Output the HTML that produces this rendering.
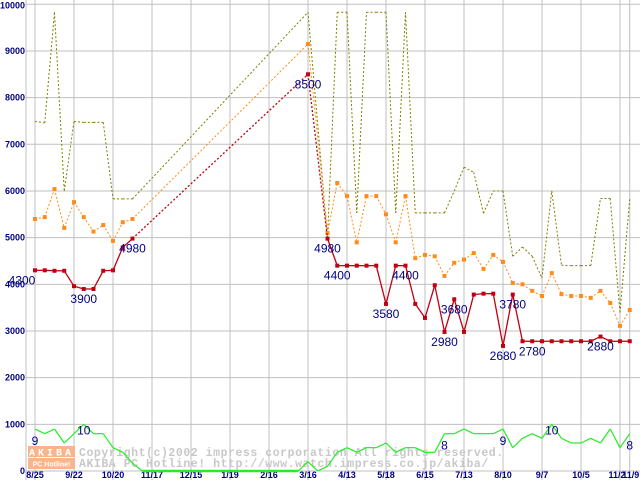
<!DOCTYPE html>
<html><head><meta charset="utf-8"><style>
html,body{margin:0;padding:0;background:#fff;}
svg{display:block;font-family:"Liberation Sans",sans-serif;}
</style></head><body>
<svg id="chart" width="640" height="480" viewBox="0 0 640 480" xmlns="http://www.w3.org/2000/svg">
<g id="grid"></g>
<g id="watermark">
  <rect x="28" y="446" width="47" height="11" fill="#f8b48a"/>
  <rect x="28" y="458" width="47" height="11" fill="#f8b48a"/>
  <text x="51.5" y="455.5" font-size="10" font-weight="bold" fill="#fff" text-anchor="middle" letter-spacing="3" font-family="Liberation Mono, monospace">AKIBA</text>
  <text x="51.5" y="466.5" font-size="7" font-weight="bold" fill="#fff" text-anchor="middle">PC Hotline!</text>
  <text x="79" y="456" font-size="11.5" font-weight="bold" fill="#c8c8c8" font-family="Liberation Mono, monospace" letter-spacing="0.55">Copyright(c)2002 impress corporation All rights reserved.</text>
  <text x="79" y="467" font-size="11.5" font-weight="bold" fill="#c8c8c8" font-family="Liberation Mono, monospace" letter-spacing="0.55">AKIBA PC Hotline!  http://www.watch.impress.co.jp/akiba/</text>
</g>
<g id="series"></g>
<g id="labels"></g>
</svg>
<script>
const N = null;
const xLabels = ["8/25","9/22","10/20","11/17","12/15","1/19","2/16","3/16","4/13","5/18","6/15","7/13","8/10","9/7","10/5","11/2","11/9"];
const xLabelWeeks = [0,4,8,12,16,20,24,28,32,36,40,44,48,52,56,60,61];
const yTicks = [0,1000,2000,3000,4000,5000,6000,7000,8000,9000,10000];
const minPrice = [4300,4300,4290,4290,3960,3900,3900,4290,4300,4790,4980,N,N,N,N,N,N,N,N,N,N,N,N,N,N,N,N,N,8500,N,4980,4400,4400,4400,4400,4400,3580,4400,4400,3580,3280,3980,2980,3680,2980,3780,3800,3800,2680,3780,2780,2780,2780,2780,2780,2780,2780,2780,2880,2780,2780,2780];
const avgPrice = [5400,5440,6040,5210,5760,5440,5130,5270,4930,5330,5400,N,N,N,N,N,N,N,N,N,N,N,N,N,N,N,N,N,9150,N,5100,6170,5890,4900,5890,5890,5500,4900,5890,4560,4630,4600,4180,4460,4530,4670,4330,4630,4480,4030,4000,3860,3750,4240,3790,3750,3750,3710,3860,3600,3110,3450];
const maxPrice = [7490,7460,9830,6000,7490,7470,7470,7470,5830,5830,5830,N,N,N,N,N,N,N,N,N,N,N,N,N,N,N,N,N,9830,N,5000,9830,9830,5530,9830,9830,9830,5530,9830,5530,5530,5530,5530,6000,6510,6400,5520,6000,6000,4600,4800,4600,4130,6000,4410,4400,4400,4400,5840,5840,3390,5840];
const shopCount = [900,800,900,600,800,1000,800,800,500,400,170,0,0,0,0,0,0,0,0,0,0,0,0,0,0,0,0,0,200,0,100,400,500,400,500,500,600,400,500,500,400,400,800,800,900,800,800,800,900,500,700,800,700,1000,700,600,600,700,600,900,500,800];
const priceLabelWeeks = [0,5,10,28,30,31,36,38,43,42,48,49,51,58];
const priceLabelText = ["4300","3900","4980","8500","4980","4400","3580","4400","3680","2980","2680","3780","2780","2880"];
const countLabelWeeks = [0,5,42,48,53,61];
const countLabelText = ["9","10","8","9","10","8"];

const NS = "http://www.w3.org/2000/svg";
const xS = w => 35 + w * 9.75;
const yS = v => 471 - v * 0.04667;
function mk(tag, attrs, parent){const e=document.createElementNS(NS,tag);for(const k in attrs)e.setAttribute(k,attrs[k]);parent.appendChild(e);return e;}
const grid=document.getElementById('grid'), ser=document.getElementById('series'), lab=document.getElementById('labels');

yTicks.forEach(v=>{
  const l=mk('line',{x1:26,x2:640,y1:yS(v),y2:yS(v),stroke:'#c0c0c0','stroke-width':1},grid);
  
  
  const t=mk('text',{x:25,y:yS(v)+(v===10000?4:3),'font-size':9,'font-weight':'bold',fill:'#000080','text-anchor':'end'},grid);
  t.textContent=v;
  
  
});
const ax=mk('line',{x1:26,x2:26,y1:0,y2:480,stroke:'#c0c0c0','stroke-width':1},grid);


xLabelWeeks.forEach((w,i)=>{
  const l=mk('line',{x1:xS(w),x2:xS(w),y1:0,y2:480,stroke:'#c0c0c0','stroke-width':1},grid);
  
  
  const t=mk('text',{x:xS(w)+(i===15?-3:i===16?1:0),y:478,'font-size':9,'font-weight':'bold',fill:'#000080','text-anchor':'middle'},grid);
  t.textContent=xLabels[i];
  
  
});

function drawSeries(data,color,width,dashAll,name,marker){
  let prev=-1;
  data.forEach((v,i)=>{
    if(v===null)return;
    if(prev>=0){
      const dotted = dashAll || (i-prev>1);
      const w = (name==='shop-count' && v===0 && data[prev]===0) ? 2.5 : width;
      const s=mk('line',{x1:xS(prev),y1:yS(data[prev]),x2:xS(i),y2:yS(v),stroke:color,'stroke-width':w},ser);
      if(dotted)s.setAttribute('stroke-dasharray','2,2');
      
      
    }
    prev=i;
  });
  if(marker){
    data.forEach((v,i)=>{
      if(v===null)return;
      const m=mk('rect',{x:xS(i)-1.5,y:yS(v)-1.5,width:3,height:3,fill:marker.fill,stroke:marker.stroke,'stroke-width':1},ser);
      
      
    });
  }
}
drawSeries(shopCount,'#22ee22',1.2,false,'shop-count',null);
drawSeries(maxPrice,'#808000',1,true,'max-price',null);
drawSeries(avgPrice,'#ff8c1a',1,true,'avg-price',{fill:'#ff8c1a',stroke:'#ff8c1a'});
drawSeries(minPrice,'#c00010',1.3,false,'min-price',{fill:'#c00010',stroke:'#c00010'});

priceLabelWeeks.forEach((w,i)=>{
  const v=minPrice[w];
  const t=mk('text',{x:xS(w)+(i===0?-13:0),y:yS(v)+14,'font-size':12,fill:'#000080','text-anchor':'middle'},lab);
  t.textContent=priceLabelText[i];
  
  
});
countLabelWeeks.forEach((w,i)=>{
  const t=mk('text',{x:xS(w),y:yS(shopCount[w])+(i===1||i===4?10:16),'font-size':12,fill:'#000080','text-anchor':'middle'},lab);
  t.textContent=countLabelText[i];
  
  
});
</script>
</body></html>
